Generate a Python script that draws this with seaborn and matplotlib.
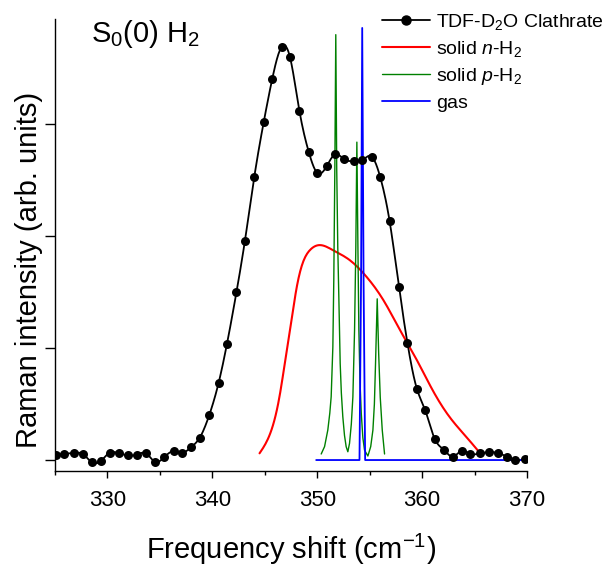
import numpy as np
import pandas as pd
import matplotlib
matplotlib.use('Agg')
import matplotlib.pyplot as plt
from matplotlib.lines import Line2D
import seaborn as sns

# TDF-D2O clathrate spectrum
clath_x = [325.1, 325.9, 326.8, 327.7, 328.5, 329.4, 330.2, 331.1, 332.0, 332.8,
           333.7, 334.5, 335.4, 336.3, 337.1, 338.0, 338.8, 339.7, 340.6, 341.4,
           342.3, 343.1, 344.0, 344.9, 345.7, 346.6, 347.4, 348.3, 349.2, 350.0,
           350.9, 351.7, 352.6, 353.5, 354.3, 355.2, 356.0, 356.9, 357.8, 358.6,
           359.5, 360.3, 361.2, 362.1, 362.9, 363.8, 364.6, 365.5, 366.4, 367.2,
           368.1, 368.9, 369.8]
clath_y = [0.045, 0.056, 0.063, 0.051, -0.020, -0.006, 0.065, 0.060, 0.042, 0.047,
           0.060, -0.015, 0.024, 0.080, 0.065, 0.116, 0.200, 0.400, 0.690, 1.040,
           1.500, 1.955, 2.530, 3.020, 3.400, 3.690, 3.600, 3.120, 2.750, 2.565,
           2.625, 2.730, 2.685, 2.670, 2.680, 2.710, 2.530, 2.135, 1.543, 1.047,
           0.637, 0.444, 0.190, 0.089, 0.030, 0.083, 0.054, 0.060, 0.069, 0.065,
           0.027, -0.003, 0.012]

# solid n-H2
nh2_x = [344.5, 345.4, 346.4, 347.0, 347.5, 348.0, 348.6, 349.3, 350.2, 351.5,
         353.1, 354.7, 356.3, 357.9, 359.5, 361.0, 362.6, 364.2, 365.5]
nh2_y = [0.06, 0.21, 0.565, 0.92, 1.22, 1.52, 1.756, 1.875, 1.92, 1.875,
         1.786, 1.637, 1.43, 1.16, 0.893, 0.625, 0.387, 0.208, 0.065]

# solid p-H2
ph2_x = [350.38, 350.70, 351.01, 351.20, 351.33, 351.49, 351.58, 351.68, 351.77, 351.86,
         351.96, 352.06, 352.19, 352.30, 352.44, 352.60, 352.76, 352.92, 353.08, 353.25,
         353.40, 353.56, 353.68, 353.78, 353.88, 353.97, 354.08, 354.20, 354.35, 354.51,
         354.83, 355.10, 355.31, 355.45, 355.56, 355.72, 355.86, 356.01, 356.20, 356.42]
ph2_y = [0.054, 0.120, 0.268, 0.420, 0.565, 1.010, 1.607, 2.600, 3.800, 2.600,
         1.900, 1.458, 0.863, 0.600, 0.387, 0.220, 0.119, 0.074, 0.149, 0.320,
         0.565, 1.160, 1.900, 2.840, 1.900, 1.160, 0.700, 0.417, 0.200, 0.089,
         0.036, 0.120, 0.268, 0.500, 0.863, 1.440, 0.950, 0.560, 0.268, 0.054]

# gas
gas_x = [349.9, 354.03, 354.18, 354.29, 354.42, 354.57, 370.0]
gas_y = [0.0, 0.0, 1.6, 3.86, 1.6, 0.0, 0.0]


def smooth_curve(x, y, n=12):
    # natural cubic spline through the points, for the connecting line
    x = np.asarray(x, float)
    y = np.asarray(y, float)
    h = np.diff(x)
    m = len(x)
    A = np.zeros((m, m))
    b = np.zeros(m)
    A[0, 0] = A[-1, -1] = 1
    for i in range(1, m - 1):
        A[i, i - 1] = h[i - 1]
        A[i, i] = 2 * (h[i - 1] + h[i])
        A[i, i + 1] = h[i]
        b[i] = 6 * ((y[i + 1] - y[i]) / h[i] - (y[i] - y[i - 1]) / h[i - 1])
    M = np.linalg.solve(A, b)
    xs, ys = [], []
    for i in range(m - 1):
        t = np.linspace(x[i], x[i + 1], n, endpoint=False)
        a = x[i + 1] - t
        c = t - x[i]
        s = (M[i] * a ** 3 + M[i + 1] * c ** 3) / (6 * h[i]) \
            + (y[i] / h[i] - M[i] * h[i] / 6) * a + (y[i + 1] / h[i] - M[i + 1] * h[i] / 6) * c
        xs.extend(t)
        ys.extend(s)
    xs.append(x[-1])
    ys.append(y[-1])
    return np.array(xs), np.array(ys)


sns.set_theme(style="ticks")
plt.rcParams['font.family'] = ['Liberation Sans', 'DejaVu Sans']
plt.rcParams['mathtext.fontset'] = 'custom'
plt.rcParams['mathtext.rm'] = 'Liberation Sans'
plt.rcParams['mathtext.it'] = 'Liberation Sans:italic'
for key in ['text.color', 'axes.labelcolor', 'xtick.color', 'ytick.color', 'axes.edgecolor']:
    plt.rcParams[key] = 'black'

fig = plt.figure(figsize=(6.06, 5.67), dpi=100)
ax = fig.add_axes([0.0908, 0.1693, 0.7788, 0.7972])

sx, sy = smooth_curve(clath_x, clath_y)
sns.lineplot(x=sx, y=sy, color='black', lw=1.3, sort=False, estimator=None, ax=ax)
sns.scatterplot(x=clath_x, y=clath_y, color='black', s=42, edgecolor='black',
                linewidth=0, ax=ax, zorder=3)

rx, ry = smooth_curve(nh2_x, nh2_y, n=8)
sns.lineplot(x=rx, y=ry, color='#ff0000', lw=1.5, sort=False, estimator=None, ax=ax)
sns.lineplot(x=ph2_x, y=ph2_y, color='#008000', lw=1.0, sort=False, estimator=None, ax=ax)
sns.lineplot(x=gas_x, y=gas_y, color='#0000ff', lw=1.3, sort=False, estimator=None, ax=ax)

ax.set_xlim(325, 370)
ax.set_ylim(-0.098, 3.94)
ax.set_xticks([330, 340, 350, 360, 370])
ax.set_xticks([325, 335, 345, 355, 365], minor=True)
ax.set_yticks([0, 1, 2, 3])
ax.set_yticklabels([])
ax.tick_params(axis='x', which='major', length=5, width=1, labelsize=16, pad=9, direction='out')
ax.tick_params(axis='x', which='minor', length=3, width=1, direction='out')
ax.tick_params(axis='y', which='major', length=7, width=1, direction='out')
for side in ['top', 'right']:
    ax.spines[side].set_visible(False)
for side in ['left', 'bottom']:
    ax.spines[side].set_linewidth(1.0)

ax.set_xlabel('Frequency shift (cm$^{-1}$)', fontsize=21, labelpad=15)
ax.set_ylabel('Raman intensity (arb. units)', fontsize=21)
ax.yaxis.set_label_coords(-0.026, 0.445)

ax.text(0.076, 0.95, 'S$_0$(0) H$_2$', transform=ax.transAxes, fontsize=21,
        ha='left', va='baseline')

handles = [
    Line2D([], [], color='black', lw=1.3, marker='o', markersize=6.5),
    Line2D([], [], color='#ff0000', lw=1.5),
    Line2D([], [], color='#008000', lw=1.0),
    Line2D([], [], color='#0000ff', lw=1.3),
]
labels = ['TDF-D$_2$O Clathrate', 'solid $n$-H$_2$', 'solid $p$-H$_2$', 'gas']
fig.legend(handles, labels, loc='upper left', bbox_to_anchor=(0.631, 0.979),
           frameon=False, fontsize=14, handlelength=2.45, handletextpad=0.3,
           labelspacing=0.36, borderpad=0, borderaxespad=0)

fig.savefig('out.png', dpi=100)
